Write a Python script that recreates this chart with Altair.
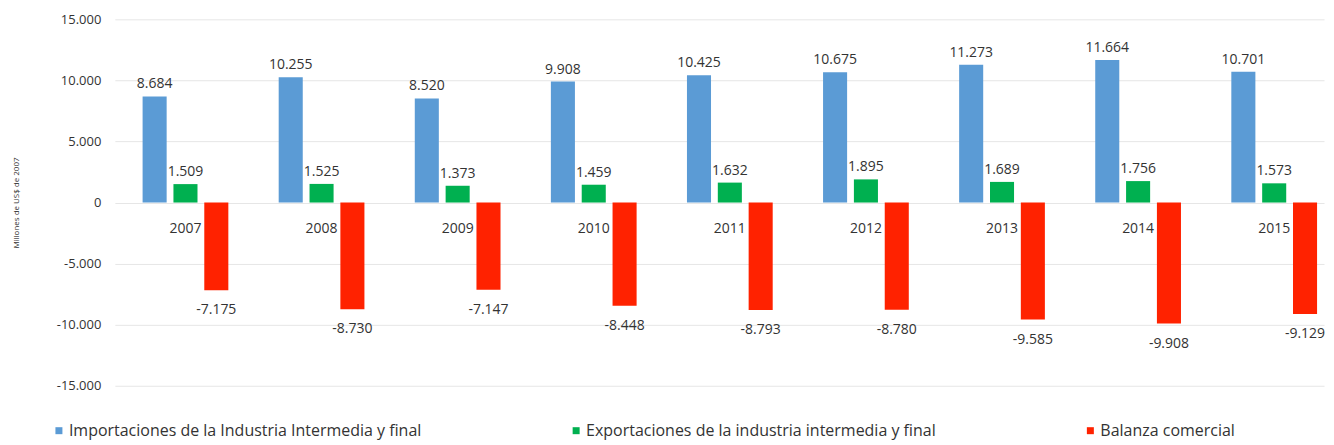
import altair as alt
import pandas as pd

years = ["2007", "2008", "2009", "2010", "2011", "2012", "2013", "2014", "2015"]
importaciones = [8684, 10255, 8520, 9908, 10425, 10675, 11273, 11664, 10701]
exportaciones = [1509, 1525, 1373, 1459, 1632, 1895, 1689, 1756, 1573]
balanza = [-7175, -8730, -7147, -8448, -8793, -8780, -9585, -9908, -9129]

S1 = "Importaciones de la Industria Intermedia y final"
S2 = "Exportaciones de la industria intermedia y final"
S3 = "Balanza comercial"
series = [S1, S2, S3]
colors = ["#5B9BD5", "#00B050", "#FF2200"]


def fmt(v):
    s = f"{abs(v):,}".replace(",", ".")
    return ("-" if v < 0 else "") + s


rows = []
for name, vals in zip(series, [importaciones, exportaciones, balanza]):
    for y, v in zip(years, vals):
        rows.append({"year": y, "serie": name, "value": v, "label": fmt(v)})
df = pd.DataFrame(rows)
ydf = pd.DataFrame({"year": years, "zero": [0] * len(years)})

FONT = "Open Sans"
TXT = "#333333"

x_scale = alt.Scale(paddingInner=0.37, paddingOuter=0.1275, align=0.8)
x_enc = alt.X("year:N", sort=years, scale=x_scale, axis=None)
xo_enc = alt.XOffset("serie:N", sort=series,
                     scale=alt.Scale(domain=series, paddingInner=0.22, paddingOuter=0))
y_scale = alt.Scale(domain=[-15000, 15000])

bars = alt.Chart(df).mark_bar().encode(
    x=x_enc,
    xOffset=xo_enc,
    y=alt.Y("value:Q", scale=y_scale,
            axis=alt.Axis(values=[-15000, -10000, -5000, 0, 5000, 10000, 15000],
                          labelExpr="(datum.value < 0 ? '-' : '') + replace(format(abs(datum.value), ','), ',', '.')",
                          title="Millones de US$ de 2007",
                          titleFontSize=8, titleFont=FONT, titleFontWeight="normal",
                          titleColor=TXT, titlePadding=36,
                          labelFont=FONT, labelFontSize=13, labelColor=TXT,
                          labelPadding=14, ticks=False, domain=False,
                          grid=True, gridColor="#E6E6E6", gridWidth=1)),
    color=alt.Color("serie:N", sort=series,
                    scale=alt.Scale(domain=series, range=colors),
                    legend=alt.Legend(title=None, orient="none", legendX=-64, legendY=404,
                                      direction="horizontal", columns=3,
                                      columnPadding=146, symbolType="square",
                                      symbolSize=49, symbolStrokeWidth=0,
                                      labelOffset=2,
                                      labelFont=FONT, labelFontSize=16,
                                      labelColor=TXT, labelLimit=800)),
)

pos = alt.Chart(df).transform_filter(alt.datum.value >= 0).mark_text(
    baseline="bottom", dy=-5, font=FONT, fontSize=14, color=TXT
).encode(x=x_enc, xOffset=xo_enc, y=alt.Y("value:Q", scale=y_scale), text="label:N")

neg = alt.Chart(df).transform_filter(alt.datum.value < 0).mark_text(
    baseline="top", dy=13, font=FONT, fontSize=14, color=TXT
).encode(x=x_enc, xOffset=xo_enc, y=alt.Y("value:Q", scale=y_scale), text="label:N")

yr = alt.Chart(ydf).mark_text(
    baseline="middle", dy=27, font=FONT, fontSize=14, color=TXT
).encode(x=x_enc, y=alt.Y("zero:Q", scale=y_scale), text="year:N")

chart = alt.layer(bars, pos, neg, yr).properties(
    width=1211, height=367,
    padding={"left": 4, "top": 5, "right": 0, "bottom": 5},
).configure_view(stroke=None)

chart.save("out.html", embed_options={"renderer": "svg", "actions": False})
